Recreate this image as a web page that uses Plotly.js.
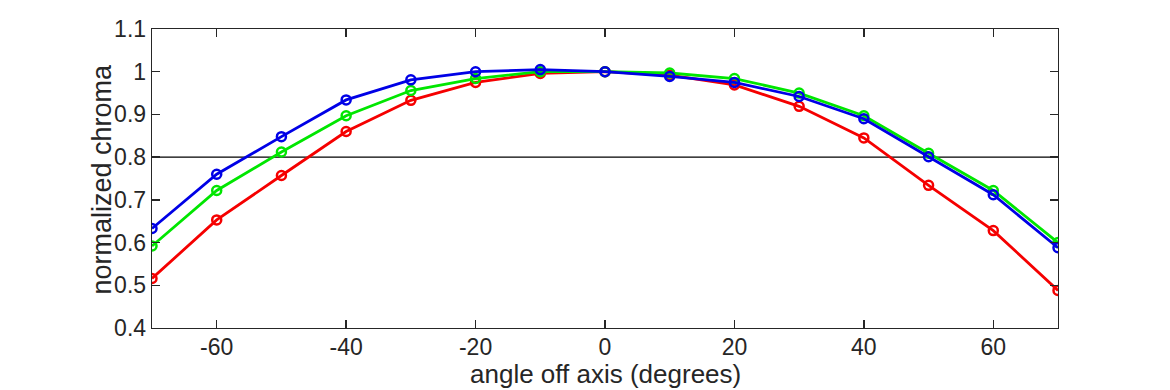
<!DOCTYPE html>
<html>
<head>
<meta charset="utf-8">
<script src="https://cdn.plot.ly/plotly-3.0.1.min.js"></script>
<style>html,body{margin:0;padding:0;background:#fff}#chart{width:1170px;height:390px}</style>
</head>
<body>
<div id="chart"></div>
<script>
const angles = [-70, -60, -50, -40, -30, -20, -10, 0, 10, 20, 30, 40, 50, 60, 70];
const redVals   = [0.516, 0.653, 0.757, 0.860, 0.933, 0.975, 0.996, 1.000, 0.992, 0.969, 0.919, 0.845, 0.734, 0.628, 0.488];
const greenVals = [0.592, 0.722, 0.812, 0.897, 0.956, 0.984, 1.000, 1.000, 0.997, 0.984, 0.950, 0.897, 0.809, 0.722, 0.600];
const blueVals  = [0.633, 0.760, 0.848, 0.934, 0.981, 1.000, 1.005, 1.000, 0.989, 0.975, 0.942, 0.890, 0.801, 0.712, 0.588];
const xTicks = [-60, -40, -20, 0, 20, 40, 60];
const yTicks = [0.4, 0.5, 0.6, 0.7, 0.8, 0.9, 1, 1.1];
const yTickText = ['0.4', '0.5', '0.6', '0.7', '0.8', '0.9', '1', '1.1'];
const threshold = 0.8;
const xTitle = 'angle off axis (degrees)';
const yTitle = 'normalized chroma';

function series(vals, color) {
  return {
    x: angles, y: vals, type: 'scatter', mode: 'lines+markers',
    line: {color: color, width: 2.8},
    marker: {symbol: 'circle-open', size: 9, color: color, line: {width: 2.5, color: color}},
    showlegend: false, hoverinfo: 'skip'
  };
}

const data = [
  {x: [-70, 70], y: [threshold, threshold], type: 'scatter', mode: 'lines',
   line: {color: '#000', width: 1.3}, showlegend: false, hoverinfo: 'skip'},
  series(redVals, '#f50000'),
  series(greenVals, '#00e600'),
  series(blueVals, '#0000e6')
];

const FONT = 'Liberation Sans, Arial, Helvetica, sans-serif';
const axisCommon = {
  showgrid: false, zeroline: false, showline: true, mirror: 'ticks',
  linecolor: '#262626', linewidth: 1.3, ticks: 'inside', ticklen: 8, tickwidth: 1.3,
  tickcolor: '#262626', tickfont: {family: FONT, size: 23, color: '#262626'}
};

const layout = {
  width: 1170, height: 390,
  margin: {l: 152, r: 112, t: 29, b: 62},
  paper_bgcolor: '#fff', plot_bgcolor: '#fff',
  xaxis: Object.assign({}, axisCommon, {
    range: [-70, 70], tickvals: xTicks, ticktext: xTicks.map(String), ticklabelstandoff: -2
  }),
  yaxis: Object.assign({}, axisCommon, {
    range: [0.4, 1.1], tickvals: yTicks, ticktext: yTickText
  }),
  annotations: [
    {text: xTitle, xref: 'paper', yref: 'paper', x: 0.5, y: -0.153,
     xanchor: 'center', yanchor: 'middle', showarrow: false,
     font: {family: FONT, size: 26, color: '#262626'}},
    {text: yTitle, xref: 'paper', yref: 'paper', x: -0.0552, y: 0.5, textangle: -90,
     xanchor: 'center', yanchor: 'middle', showarrow: false,
     font: {family: FONT, size: 27, color: '#262626'}}
  ]
};

Plotly.newPlot('chart', data, layout, {staticPlot: true, displayModeBar: false});
</script>
</body>
</html>
